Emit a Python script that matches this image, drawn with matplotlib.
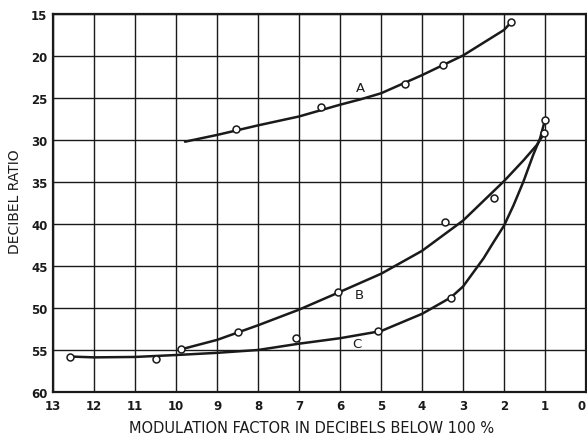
import numpy as np
import matplotlib.pyplot as plt

# curve A: drawn line and measured points
a_line_x = [9.78, 9, 8, 7, 6, 5.5, 5, 4, 3, 2, 1.83]
a_line_y = [30.2, 29.4, 28.26, 27.2, 25.8, 25.16, 24.44, 22.28, 19.94, 16.9, 16.0]
a_pts_x = [8.54, 6.46, 4.41, 3.49, 1.83]
a_pts_y = [28.66, 26.1, 23.3, 21.06, 16.0]

# curve B
b_line_x = [9.88, 9, 8, 7, 6, 5, 4, 3, 2, 1.52, 1.2, 1.02]
b_line_y = [54.93, 53.8, 52.06, 50.2, 48.08, 45.93, 43.2, 39.6, 34.9, 32.4, 30.6, 29.2]
b_pts_x = [9.88, 8.49, 6.05, 3.44, 2.24, 1.02]
b_pts_y = [54.93, 52.87, 48.08, 39.8, 36.9, 29.2]

# curve C
c_line_x = [12.58, 12, 11, 10, 9, 8, 7, 6, 5, 4, 3.3, 3, 2.5, 2.26, 2,
            1.77, 1.53, 1.29, 1.12, 1.0]
c_line_y = [55.78, 55.88, 55.83, 55.6, 55.34, 55.0, 54.25, 53.6, 52.75, 50.7,
            48.76, 47.45, 44.1, 42.2, 40.2, 37.8, 35.0, 31.8, 29.8, 27.6]
c_pts_x = [12.58, 10.5, 7.07, 5.07, 3.29, 1.0]
c_pts_y = [55.78, 56.1, 53.63, 52.75, 48.76, 27.6]

curve_names = ['A', 'B', 'C']
name_x = [5.5, 5.54, 5.6]
name_y = [23.8, 48.4, 54.2]

x_ticks = list(range(0, 14))
y_ticks = [15, 20, 25, 30, 35, 40, 45, 50, 55, 60]

ink = '#1a1a1a'

fig = plt.figure(figsize=(5.87, 4.35), dpi=100)
ax = fig.add_axes([0.0903, 0.0966, 0.9080, 0.8689])

for lx, ly, px, py in [(a_line_x, a_line_y, a_pts_x, a_pts_y),
                       (b_line_x, b_line_y, b_pts_x, b_pts_y),
                       (c_line_x, c_line_y, c_pts_x, c_pts_y)]:
    ax.plot(lx, ly, color=ink, lw=1.8, solid_joinstyle='round',
            solid_capstyle='round', zorder=3)
    ax.plot(px, py, 'o', ms=5, mfc='white', mec=ink, mew=1.1, zorder=4)

for name, tx, ty in zip(curve_names, name_x, name_y):
    ax.text(tx, ty, name, fontsize=9.5, ha='center', va='center', color=ink)

ax.set_xlim(13, 0)
ax.set_ylim(60, 15)
ax.set_xticks(x_ticks)
ax.set_yticks(y_ticks)
ax.grid(True, color=ink, lw=1.0)
ax.set_axisbelow(True)
ax.tick_params(length=0, labelsize=8.5, colors=ink)
ax.tick_params(axis='x', pad=5)
ax.tick_params(axis='y', pad=4)
for lab in ax.get_xticklabels() + ax.get_yticklabels():
    lab.set_fontweight('bold')
ax.get_xticklabels()[0].set_horizontalalignment('right')
for s in ax.spines.values():
    s.set_linewidth(1.6)
    s.set_color(ink)

ax.set_ylabel('DECIBEL RATIO', fontsize=10, color=ink)
ax.yaxis.set_label_coords(-0.058, 0.505)
ax.set_xlabel('MODULATION FACTOR IN DECIBELS BELOW 100 %', fontsize=10.5,
              color=ink)
ax.xaxis.set_label_coords(0.486, -0.074)

plt.savefig('out.png', dpi=100)
